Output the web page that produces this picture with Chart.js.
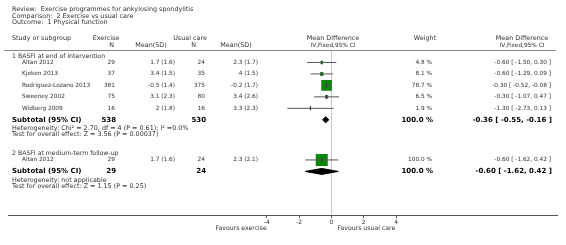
<!DOCTYPE html>
<html>
<head>
<meta charset="utf-8">
<script src="https://cdn.jsdelivr.net/npm/chart.js@4"></script>
<style>
  html, body { margin: 0; padding: 0; background: #fff; }
  canvas { display: block; }
</style>
</head>
<body>
<canvas id="forestCanvas" width="566" height="245"></canvas>
<script>
// 森林图 - 运动疗法 vs 常规护理
const studies = ['Altan 2012', 'Kjeken 2013', 'Rodriguez-Lozano 2013', 'Sweeney 2002', 'Widberg 2009', 'Altan 2012'];
const studyGroup = [0, 0, 0, 0, 0, 1];
const exN = [29, 37, 381, 75, 16, 29];
const exMeanSD = ['1.7 (1.6)', '3.4 (1.5)', '-0.5 (1.4)', '3.1 (2.3)', '2 (1.8)', '1.7 (1.6)'];
const ucN = [24, 35, 375, 80, 16, 24];
const ucMeanSD = ['2.3 (1.7)', '4 (1.5)', '-0.2 (1.7)', '3.4 (2.6)', '3.3 (2.3)', '2.3 (2.1)'];
const weights = [4.8, 8.1, 78.7, 6.5, 1.9, 100.0];
const md = [-0.60, -0.60, -0.30, -0.30, -1.30, -0.60];
const mdLow = [-1.50, -1.29, -0.52, -1.07, -2.73, -1.62];
const mdHigh = [0.30, 0.09, -0.08, 0.47, 0.13, 0.42];

const groupTitles = ['1 BASFI at end of intervention', '2 BASFI at medium-term follow-up'];
const subExN = [538, 29];
const subUcN = [530, 24];
const subWeight = [100.0, 100.0];
const subMd = [-0.36, -0.60];
const subLow = [-0.55, -1.62];
const subHigh = [-0.16, 0.42];
const hetText = ['Heterogeneity: Chi\u00b2 = 2.70, df = 4 (P = 0.61); I\u00b2 =0.0%', 'Heterogeneity: not applicable'];
const testText = ['Test for overall effect: Z = 3.56 (P = 0.00037)', 'Test for overall effect: Z = 1.15 (P = 0.25)'];

const xTicks = [-4, -2, 0, 2, 4];

// 版面: 每组第一行的位置 (行单位)
const groupStart = [1, 9.5];
const FONT = '"DejaVu Sans", Verdana, sans-serif';

function rowOf(i) {
    const g = studyGroup[i];
    const idx = studyGroup.slice(0, i).filter(v => v === g).length;
    return groupStart[g] + idx;
}
function subRow(g) {
    return groupStart[g] + studyGroup.filter(v => v === g).length;
}
function fmt(v) { return v.toFixed(2); }
function ciText(m, l, h) { return fmt(m) + ' [ ' + fmt(l) + ', ' + fmt(h) + ' ]'; }

const datasets = [];
// 置信区间线
studies.forEach((s, i) => {
    datasets.push({
        data: [{ x: mdLow[i], y: rowOf(i) }, { x: mdHigh[i], y: rowOf(i) }],
        showLine: true, borderColor: '#555', borderWidth: 1, pointRadius: 0, order: 0
    });
});
// 点估计竖线
datasets.push({
    data: studies.map((s, i) => ({ x: md[i], y: rowOf(i) })),
    pointStyle: 'line', rotation: 90, pointRadius: 2, borderColor: '#222', borderWidth: 1, order: 0
});
// 权重方块
datasets.push({
    data: studies.map((s, i) => ({ x: md[i], y: rowOf(i) })),
    pointStyle: 'rect',
    pointRadius: weights.map(w => 12 * Math.sqrt(w / 100) / 1.414),
    backgroundColor: '#0a870a', borderColor: '#0a870a', borderWidth: 0, order: 2
});
// 合并效应菱形
groupTitles.forEach((t, g) => {
    const r = subRow(g);
    const h = 0.26;
    datasets.push({
        data: [{ x: subLow[g], y: r }, { x: subMd[g], y: r - h }, { x: subHigh[g], y: r }, { x: subMd[g], y: r + h }, { x: subLow[g], y: r }],
        showLine: true, fill: 'shape', backgroundColor: '#000', borderColor: '#000', borderWidth: 1,
        pointRadius: 0, tension: 0, order: 1
    });
});

function txt(c, s, x, y, align, font, color) {
    c.font = font;
    c.fillStyle = color;
    c.textAlign = align;
    c.textBaseline = 'middle';
    c.fillText(s, x, y);
}

const textPlugin = {
    id: 'forestText',
    afterDraw(chart) {
        const c = chart.ctx;
        const yS = chart.scales.y;
        const xS = chart.scales.x;
        const fh = '6.4px ' + FONT;   // 标题/表头
        const fg = '6.2px ' + FONT;   // 分组标题
        const f = '5.8px ' + FONT;    // 数据行
        const fb = 'bold 7px ' + FONT;
        const col = '#333';
        c.save();
        txt(c, 'Review:  Exercise programmes for ankylosing spondylitis', 12, 9.5, 'left', fh, col);
        txt(c, 'Comparison:  2 Exercise vs usual care', 12, 16, 'left', fh, col);
        txt(c, 'Outcome:  1 Physical function', 12, 22.5, 'left', fh, col);

        txt(c, 'Study or subgroup', 12, 38, 'left', fh, col);
        txt(c, 'Exercise', 106, 38, 'center', fh, col);
        txt(c, 'Usual care', 190, 38, 'center', fh, col);
        txt(c, 'Mean Difference', 333, 38, 'center', fh, col);
        txt(c, 'Weight', 425, 38, 'center', fh, col);
        txt(c, 'Mean Difference', 522, 38, 'center', fh, col);
        txt(c, 'N', 114, 45, 'right', fh, col);
        txt(c, 'Mean(SD)', 151, 45, 'center', fh, col);
        txt(c, 'N', 196, 45, 'right', fh, col);
        txt(c, 'Mean(SD)', 236, 45, 'center', fh, col);
        txt(c, 'IV,Fixed,95% CI', 333, 45, 'center', f, col);
        txt(c, 'IV,Fixed,95% CI', 522, 45, 'center', f, col);

        c.strokeStyle = '#888';
        c.lineWidth = 1;
        c.beginPath();
        c.moveTo(4, 50.5);
        c.lineTo(556, 50.5);
        c.stroke();

        studies.forEach((s, i) => {
            const y = yS.getPixelForValue(rowOf(i));
            txt(c, s, 22, y, 'left', f, col);
            txt(c, String(exN[i]), 115, y, 'right', f, col);
            txt(c, exMeanSD[i], 175, y, 'right', f, col);
            txt(c, String(ucN[i]), 205, y, 'right', f, col);
            txt(c, ucMeanSD[i], 258, y, 'right', f, col);
            txt(c, weights[i].toFixed(1) + ' %', 432, y, 'right', f, col);
            txt(c, ciText(md[i], mdLow[i], mdHigh[i]), 551, y, 'right', f, col);
        });

        groupTitles.forEach((t, g) => {
            const y0 = yS.getPixelForValue(groupStart[g]);
            txt(c, t, 12, y0 - 6.5, 'left', fg, col);
            const ys = yS.getPixelForValue(subRow(g));
            txt(c, 'Subtotal (95% CI)', 12, ys, 'left', fb, '#000');
            txt(c, String(subExN[g]), 116, ys, 'right', fb, '#000');
            txt(c, String(subUcN[g]), 206, ys, 'right', fb, '#000');
            txt(c, subWeight[g].toFixed(1) + ' %', 433, ys, 'right', fb, '#000');
            txt(c, ciText(subMd[g], subLow[g], subHigh[g]), 552, ys, 'right', fb, '#000');
            txt(c, hetText[g], 12, ys + 8.5, 'left', fh, col);
            txt(c, testText[g], 12, ys + 14.5, 'left', fh, col);
        });

        const yb = chart.chartArea.bottom + 13;
        txt(c, 'Favours exercise', xS.getPixelForValue(-4), yb, 'right', fg, col);
        txt(c, 'Favours usual care', xS.getPixelForValue(0) + 6, yb, 'left', fg, col);
        c.restore();
    }
};

const ctx = document.getElementById('forestCanvas').getContext('2d');
const forestChart = new Chart(ctx, {
    type: 'scatter',
    data: { datasets: datasets },
    options: {
        responsive: false,
        animation: false,
        layout: { padding: { top: 51, left: 0, right: 0, bottom: 0 } },
        plugins: {
            legend: { display: false },
            tooltip: { enabled: false }
        },
        scales: {
            x: {
                type: 'linear',
                min: -20,
                max: 14,
                afterBuildTicks: s => { s.ticks = xTicks.map(v => ({ value: v })); },
                afterFit: s => { s.height = 30; },
                grid: {
                    color: c => (c.tick && c.tick.value === 0) ? '#c8c8c8' : 'rgba(0,0,0,0)',
                    tickColor: '#555',
                    tickLength: 3,
                    drawTicks: true
                },
                border: { color: '#555', width: 1 },
                ticks: {
                    font: { family: FONT, size: 6 },
                    color: '#333',
                    padding: 1,
                    maxRotation: 0,
                    autoSkip: false
                }
            },
            y: {
                type: 'linear',
                min: 0,
                max: 14.3,
                reverse: true,
                display: false
            }
        }
    },
    plugins: [textPlugin]
});
</script>
</body>
</html>
